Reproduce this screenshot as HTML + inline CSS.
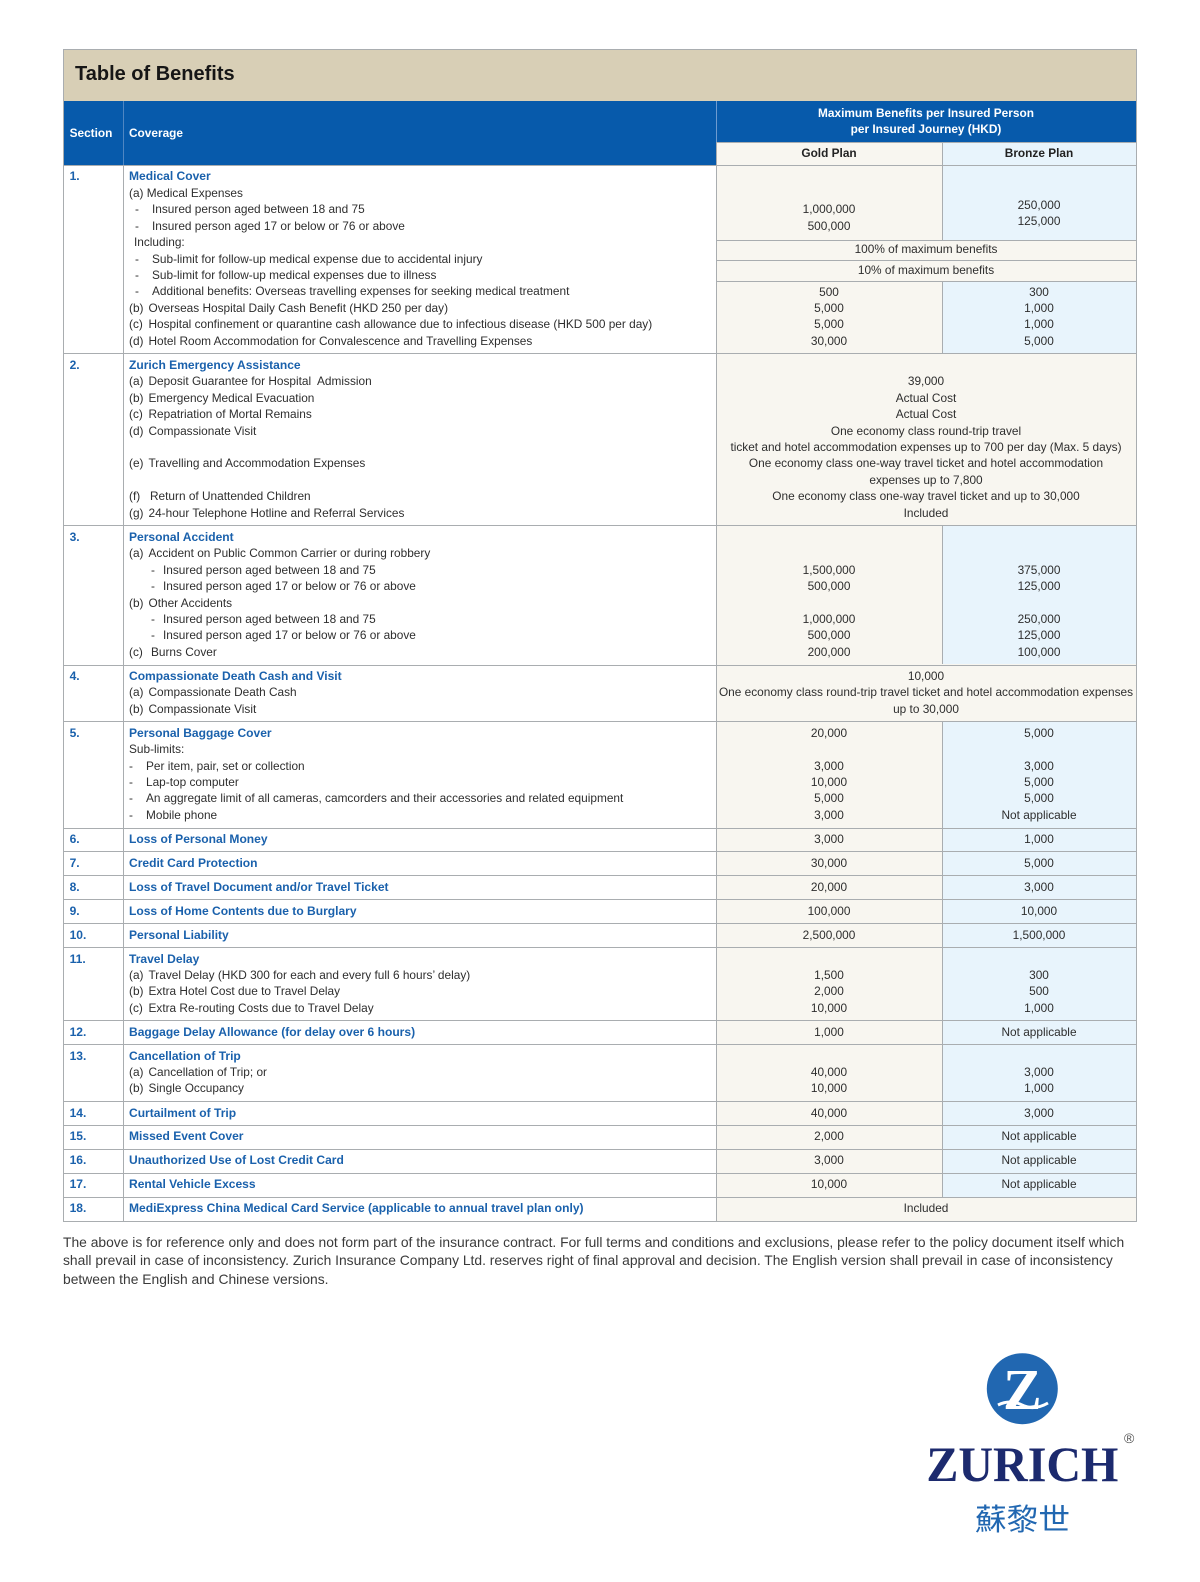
<!DOCTYPE html>
<html><head><meta charset="utf-8">
<style>
html,body{margin:0;padding:0;background:#fff}
#p{position:relative;width:1200px;height:1582px;overflow:hidden;background:#fff;font-family:"Liberation Sans",Arial,sans-serif}
.a{position:absolute}
.t{position:absolute;white-space:nowrap;font-size:11.85px;line-height:16.45px;color:#2e2e2e}
.t div{height:16.45px}
.b{font-weight:bold;color:#1a61ac}
.c{text-align:center}
.h{background:#a9adb0;height:1px}
.v{background:#a9adb0;width:1px}
.d{display:inline-block;width:17px}
.l{display:inline-block;width:19.5px}
.s{font-weight:bold;color:#1a61ac;font-size:12.05px}
</style></head><body><div id="p">

<!-- title bar -->
<div class="a" style="left:63px;top:49px;width:1073px;height:52px;background:#d8cfb6"></div>
<div class="a" style="left:75px;top:61px;font-weight:bold;font-size:20px;line-height:27px;color:#161616;white-space:nowrap">Table of Benefits</div>

<!-- blue header -->
<div class="a" style="left:63px;top:101px;width:1073px;height:64px;background:#075aab"></div>
<div class="a" style="left:716px;top:141.5px;width:420px;height:23.5px;background:#f8f6f0"></div>
<div class="a" style="left:942px;top:141.5px;width:194px;height:99px;background:#e8f4fc"></div>

<!-- body backgrounds -->
<div class="a" style="left:716px;top:165px;width:420px;height:1055.7px;background:#f8f6f0"></div>
<div class="a" style="left:942px;top:165px;width:194px;height:75.2px;background:#e8f4fc"></div>
<div class="a" style="left:942px;top:280.6px;width:194px;height:72.8px;background:#e8f4fc"></div>
<div class="a" style="left:942px;top:525.4px;width:194px;height:139.1px;background:#e8f4fc"></div>
<div class="a" style="left:942px;top:721.3px;width:194px;height:475.4px;background:#e8f4fc"></div>

<!-- header text -->
<div class="t" style="left:69.6px;top:124.5px;color:#fff;font-weight:bold">Section</div>
<div class="t" style="left:129px;top:124.5px;color:#fff;font-weight:bold">Coverage</div>
<div class="t c" style="left:716px;width:420px;top:104.5px;color:#fff;font-weight:bold"><div>Maximum Benefits per Insured Person</div><div>per Insured Journey (HKD)</div></div>
<div class="t c" style="left:716px;width:226px;top:145px;font-weight:bold;color:#222">Gold Plan</div>
<div class="t c" style="left:942px;width:194px;top:145px;font-weight:bold;color:#222">Bronze Plan</div>

<!-- lines -->
<div class="a h" style="left:63px;top:49px;width:1074px"></div>
<div class="a v" style="left:63px;top:49px;height:1172px"></div>
<div class="a v" style="left:1136px;top:49px;height:1172px"></div>
<div class="a" style="left:122.5px;top:101px;width:1px;height:64px;background:#4f86c2"></div>
<div class="a" style="left:715.5px;top:101px;width:1px;height:40.5px;background:#6d9bd0"></div>
<div class="a v" style="left:122.5px;top:165px;height:1056px"></div>
<div class="a v" style="left:715.5px;top:141.5px;height:1079px"></div>
<div class="a v" style="left:941.5px;top:141.5px;height:98.7px"></div>
<div class="a v" style="left:941.5px;top:280.6px;height:72.8px"></div>
<div class="a v" style="left:941.5px;top:525.4px;height:139.1px"></div>
<div class="a v" style="left:941.5px;top:721.3px;height:475.4px"></div>
<div class="a h" style="left:716px;top:141.5px;width:420px"></div>

<div class="a h" style="left:63px;top:165px;width:1074px"></div>
<div class="a h" style="left:716px;top:240.2px;width:420px"></div>
<div class="a h" style="left:716px;top:260.4px;width:420px"></div>
<div class="a h" style="left:716px;top:280.6px;width:420px"></div>
<div class="a h" style="left:63px;top:353.4px;width:1074px"></div>
<div class="a h" style="left:63px;top:525.4px;width:1074px"></div>
<div class="a h" style="left:63px;top:664.5px;width:1074px"></div>
<div class="a h" style="left:63px;top:721.3px;width:1074px"></div>
<div class="a h" style="left:63px;top:827.5px;width:1074px"></div>
<div class="a h" style="left:63px;top:851.4px;width:1074px"></div>
<div class="a h" style="left:63px;top:875.3px;width:1074px"></div>
<div class="a h" style="left:63px;top:899.2px;width:1074px"></div>
<div class="a h" style="left:63px;top:923.1px;width:1074px"></div>
<div class="a h" style="left:63px;top:947.1px;width:1074px"></div>
<div class="a h" style="left:63px;top:1020.3px;width:1074px"></div>
<div class="a h" style="left:63px;top:1044.2px;width:1074px"></div>
<div class="a h" style="left:63px;top:1101.1px;width:1074px"></div>
<div class="a h" style="left:63px;top:1125px;width:1074px"></div>
<div class="a h" style="left:63px;top:1148.9px;width:1074px"></div>
<div class="a h" style="left:63px;top:1172.8px;width:1074px"></div>
<div class="a h" style="left:63px;top:1196.7px;width:1074px"></div>
<div class="a h" style="left:63px;top:1220.7px;width:1074px"></div>

<!-- section numbers -->
<div class="t s" style="left:69.6px;top:168.4px">1.</div>
<div class="t s" style="left:69.6px;top:356.8px">2.</div>
<div class="t s" style="left:69.6px;top:528.8px">3.</div>
<div class="t s" style="left:69.6px;top:667.9px">4.</div>
<div class="t s" style="left:69.6px;top:724.7px">5.</div>
<div class="t s" style="left:69.6px;top:830.9px">6.</div>
<div class="t s" style="left:69.6px;top:854.8px">7.</div>
<div class="t s" style="left:69.6px;top:878.7px">8.</div>
<div class="t s" style="left:69.6px;top:902.6px">9.</div>
<div class="t s" style="left:69.6px;top:926.5px">10.</div>
<div class="t s" style="left:69.6px;top:950.5px">11.</div>
<div class="t s" style="left:69.6px;top:1023.7px">12.</div>
<div class="t s" style="left:69.6px;top:1047.6px">13.</div>
<div class="t s" style="left:69.6px;top:1104.5px">14.</div>
<div class="t s" style="left:69.6px;top:1128.4px">15.</div>
<div class="t s" style="left:69.6px;top:1152.3px">16.</div>
<div class="t s" style="left:69.6px;top:1176.2px">17.</div>
<div class="t s" style="left:69.6px;top:1200.1px">18.</div>

<!-- coverage column -->
<div class="t" style="left:129px;top:168.4px">
<div class="s">Medical Cover</div>
<div>(a) Medical Expenses</div>
<div style="padding-left:6px"><span class="d">-</span>Insured person aged between 18 and 75</div>
<div style="padding-left:6px"><span class="d">-</span>Insured person aged 17 or below or 76 or above</div>
<div style="padding-left:5px">Including:</div>
<div style="padding-left:6px"><span class="d">-</span>Sub-limit for follow-up medical expense due to accidental injury</div>
<div style="padding-left:6px"><span class="d">-</span>Sub-limit for follow-up medical expenses due to illness</div>
<div style="padding-left:6px"><span class="d">-</span>Additional benefits: Overseas travelling expenses for seeking medical treatment</div>
<div><span class="l">(b)</span>Overseas Hospital Daily Cash Benefit (HKD 250 per day)</div>
<div><span class="l">(c)</span>Hospital confinement or quarantine cash allowance due to infectious disease (HKD 500 per day)</div>
<div><span class="l">(d)</span>Hotel Room Accommodation for Convalescence and Travelling Expenses</div>
</div>

<div class="t" style="left:129px;top:356.8px">
<div class="s">Zurich Emergency Assistance</div>
<div><span class="l">(a)</span>Deposit Guarantee for Hospital&nbsp; Admission</div>
<div><span class="l">(b)</span>Emergency Medical Evacuation</div>
<div><span class="l">(c)</span>Repatriation of Mortal Remains</div>
<div><span class="l">(d)</span>Compassionate Visit</div>
<div>&nbsp;</div>
<div><span class="l">(e)</span>Travelling and Accommodation Expenses</div>
<div>&nbsp;</div>
<div><span class="l" style="width:21px">(f)</span>Return of Unattended Children</div>
<div><span class="l">(g)</span>24-hour Telephone Hotline and Referral Services</div>
</div>

<div class="t" style="left:129px;top:528.8px">
<div class="s">Personal Accident</div>
<div><span class="l">(a)</span>Accident on Public Common Carrier or during robbery</div>
<div style="padding-left:22px"><span class="d" style="width:12px">-</span>Insured person aged between 18 and 75</div>
<div style="padding-left:22px"><span class="d" style="width:12px">-</span>Insured person aged 17 or below or 76 or above</div>
<div><span class="l">(b)</span>Other Accidents</div>
<div style="padding-left:22px"><span class="d" style="width:12px">-</span>Insured person aged between 18 and 75</div>
<div style="padding-left:22px"><span class="d" style="width:12px">-</span>Insured person aged 17 or below or 76 or above</div>
<div><span class="l" style="width:22px">(c)</span>Burns Cover</div>
</div>

<div class="t" style="left:129px;top:667.9px">
<div class="s">Compassionate Death Cash and Visit</div>
<div><span class="l">(a)</span>Compassionate Death Cash</div>
<div><span class="l">(b)</span>Compassionate Visit</div>
</div>

<div class="t" style="left:129px;top:724.7px">
<div class="s">Personal Baggage Cover</div>
<div>Sub-limits:</div>
<div><span class="d">-</span>Per item, pair, set or collection</div>
<div><span class="d">-</span>Lap-top computer</div>
<div><span class="d">-</span>An aggregate limit of all cameras, camcorders and their accessories and related equipment</div>
<div><span class="d">-</span>Mobile phone</div>
</div>

<div class="t s" style="left:129px;top:830.9px">Loss of Personal Money</div>
<div class="t s" style="left:129px;top:854.8px">Credit Card Protection</div>
<div class="t s" style="left:129px;top:878.7px">Loss of Travel Document and/or Travel Ticket</div>
<div class="t s" style="left:129px;top:902.6px">Loss of Home Contents due to Burglary</div>
<div class="t s" style="left:129px;top:926.5px">Personal Liability</div>

<div class="t" style="left:129px;top:950.5px">
<div class="s">Travel Delay</div>
<div><span class="l">(a)</span>Travel Delay (HKD 300 for each and every full 6 hours’ delay)</div>
<div><span class="l">(b)</span>Extra Hotel Cost due to Travel Delay</div>
<div><span class="l">(c)</span>Extra Re-routing Costs due to Travel Delay</div>
</div>

<div class="t s" style="left:129px;top:1023.7px">Baggage Delay Allowance (for delay over 6 hours)</div>

<div class="t" style="left:129px;top:1047.6px">
<div class="s">Cancellation of Trip</div>
<div><span class="l">(a)</span>Cancellation of Trip; or</div>
<div><span class="l">(b)</span>Single Occupancy</div>
</div>

<div class="t s" style="left:129px;top:1104.5px">Curtailment of Trip</div>
<div class="t s" style="left:129px;top:1128.4px">Missed Event Cover</div>
<div class="t s" style="left:129px;top:1152.3px">Unauthorized Use of Lost Credit Card</div>
<div class="t s" style="left:129px;top:1176.2px">Rental Vehicle Excess</div>
<div class="t s" style="left:129px;top:1200.1px">MediExpress China Medical Card Service (applicable to annual travel plan only)</div>

<!-- values: row 1 -->
<div class="t c" style="left:716px;width:226px;top:168.4px"><div>&nbsp;</div><div>&nbsp;</div><div>1,000,000</div><div>500,000</div></div>
<div class="t c" style="left:942px;width:194px;top:196.5px"><div>250,000</div><div>125,000</div></div>
<div class="t c" style="left:716px;width:420px;top:241.1px">100% of maximum benefits</div>
<div class="t c" style="left:716px;width:420px;top:262.3px">10% of maximum benefits</div>
<div class="t c" style="left:716px;width:226px;top:283.6px"><div>500</div><div>5,000</div><div>5,000</div><div>30,000</div></div>
<div class="t c" style="left:942px;width:194px;top:283.6px"><div>300</div><div>1,000</div><div>1,000</div><div>5,000</div></div>

<!-- row 2 -->
<div class="t c" style="left:716px;width:420px;top:356.8px">
<div>&nbsp;</div><div>39,000</div><div>Actual Cost</div><div>Actual Cost</div>
<div>One economy class round-trip travel</div>
<div>ticket and hotel accommodation expenses up to 700 per day (Max. 5 days)</div>
<div>One economy class one-way travel ticket and hotel accommodation</div>
<div>expenses up to 7,800</div>
<div>One economy class one-way travel ticket and up to 30,000</div>
<div>Included</div>
</div>

<!-- row 3 -->
<div class="t c" style="left:716px;width:226px;top:528.8px"><div>&nbsp;</div><div>&nbsp;</div><div>1,500,000</div><div>500,000</div><div>&nbsp;</div><div>1,000,000</div><div>500,000</div><div>200,000</div></div>
<div class="t c" style="left:942px;width:194px;top:528.8px"><div>&nbsp;</div><div>&nbsp;</div><div>375,000</div><div>125,000</div><div>&nbsp;</div><div>250,000</div><div>125,000</div><div>100,000</div></div>

<!-- row 4 -->
<div class="t c" style="left:716px;width:420px;top:667.9px"><div>10,000</div><div>One economy class round-trip travel ticket and hotel accommodation expenses</div><div>up to 30,000</div></div>

<!-- row 5 -->
<div class="t c" style="left:716px;width:226px;top:724.7px"><div>20,000</div><div>&nbsp;</div><div>3,000</div><div>10,000</div><div>5,000</div><div>3,000</div></div>
<div class="t c" style="left:942px;width:194px;top:724.7px"><div>5,000</div><div>&nbsp;</div><div>3,000</div><div>5,000</div><div>5,000</div><div>Not applicable</div></div>

<!-- rows 6-10 -->
<div class="t c" style="left:716px;width:226px;top:830.9px">3,000</div>
<div class="t c" style="left:942px;width:194px;top:830.9px">1,000</div>
<div class="t c" style="left:716px;width:226px;top:854.8px">30,000</div>
<div class="t c" style="left:942px;width:194px;top:854.8px">5,000</div>
<div class="t c" style="left:716px;width:226px;top:878.7px">20,000</div>
<div class="t c" style="left:942px;width:194px;top:878.7px">3,000</div>
<div class="t c" style="left:716px;width:226px;top:902.6px">100,000</div>
<div class="t c" style="left:942px;width:194px;top:902.6px">10,000</div>
<div class="t c" style="left:716px;width:226px;top:926.5px">2,500,000</div>
<div class="t c" style="left:942px;width:194px;top:926.5px">1,500,000</div>

<!-- row 11 -->
<div class="t c" style="left:716px;width:226px;top:950.5px"><div>&nbsp;</div><div>1,500</div><div>2,000</div><div>10,000</div></div>
<div class="t c" style="left:942px;width:194px;top:950.5px"><div>&nbsp;</div><div>300</div><div>500</div><div>1,000</div></div>

<!-- row 12 -->
<div class="t c" style="left:716px;width:226px;top:1023.7px">1,000</div>
<div class="t c" style="left:942px;width:194px;top:1023.7px">Not applicable</div>

<!-- row 13 -->
<div class="t c" style="left:716px;width:226px;top:1047.6px"><div>&nbsp;</div><div>40,000</div><div>10,000</div></div>
<div class="t c" style="left:942px;width:194px;top:1047.6px"><div>&nbsp;</div><div>3,000</div><div>1,000</div></div>

<!-- rows 14-18 -->
<div class="t c" style="left:716px;width:226px;top:1104.5px">40,000</div>
<div class="t c" style="left:942px;width:194px;top:1104.5px">3,000</div>
<div class="t c" style="left:716px;width:226px;top:1128.4px">2,000</div>
<div class="t c" style="left:942px;width:194px;top:1128.4px">Not applicable</div>
<div class="t c" style="left:716px;width:226px;top:1152.3px">3,000</div>
<div class="t c" style="left:942px;width:194px;top:1152.3px">Not applicable</div>
<div class="t c" style="left:716px;width:226px;top:1176.2px">10,000</div>
<div class="t c" style="left:942px;width:194px;top:1176.2px">Not applicable</div>
<div class="t c" style="left:716px;width:420px;top:1200.1px">Included</div>

<!-- footer note -->
<div class="a" style="left:63px;top:1233.2px;font-size:13.85px;line-height:18.2px;color:#3a3a3a;white-space:nowrap">
<div>The above is for reference only and does not form part of the insurance contract. For full terms and conditions and exclusions, please refer to the policy document itself which</div>
<div>shall prevail in case of inconsistency. Zurich Insurance Company Ltd. reserves right of final approval and decision. The English version shall prevail in case of inconsistency</div>
<div>between the English and Chinese versions.</div>
</div>

<!-- logo -->
<svg class="a" style="left:0;top:0" width="1200" height="1582" viewBox="0 0 1200 1582">
<circle cx="1022.3" cy="1388.7" r="35.5" fill="#2167b1"/>
<text x="1022.3" y="1409" text-anchor="middle" font-family="Liberation Serif, serif" font-weight="bold" font-size="58" fill="#ffffff">Z</text>
<path d="M998 1405 q12 -6 24 0 t26 -2" stroke="#ffffff" stroke-width="3" fill="none"/>
<text x="926.4" y="1481" textLength="192" lengthAdjust="spacingAndGlyphs" font-family="Liberation Serif, serif" font-weight="bold" font-size="50" fill="#1c2a6e">ZURICH</text>
<text x="1124" y="1443" font-family="Liberation Sans, sans-serif" font-size="14" fill="#555">®</text>
<text x="975" y="1530" textLength="95" lengthAdjust="spacingAndGlyphs" font-family="Noto Sans CJK TC, Noto Sans CJK SC, sans-serif" font-size="30" fill="#2167b1">蘇黎世</text>
</svg>

</div></body></html>
